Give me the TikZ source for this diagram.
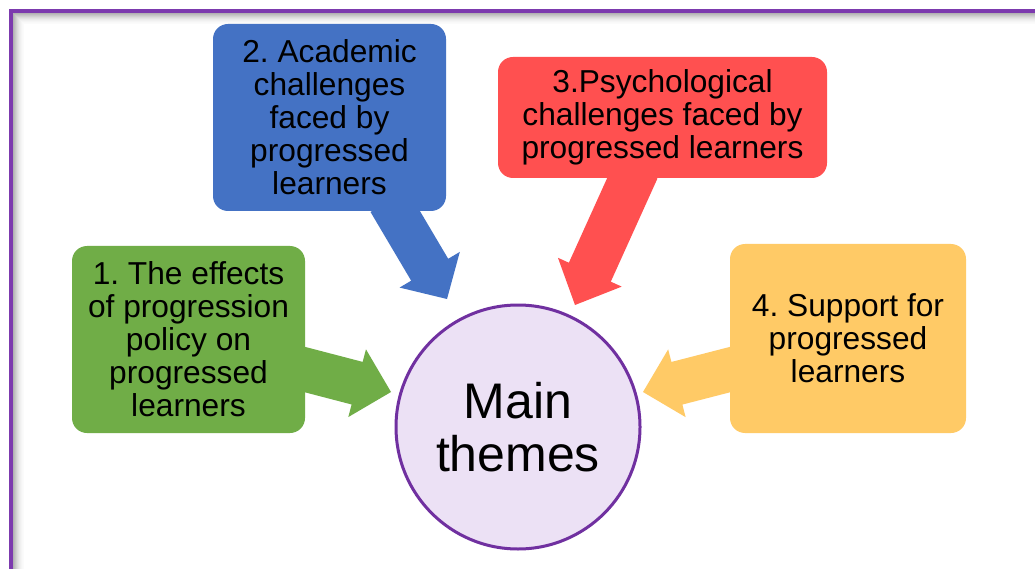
\documentclass[tikz,border=0pt]{standalone}
\usepackage{fontspec}
\setmainfont{Liberation Sans}
\usetikzlibrary{calc}
\frenchspacing

\definecolor{framecol}{RGB}{124,58,174}
\definecolor{ringcol}{RGB}{112,48,160}
\definecolor{ringfill}{RGB}{236,225,245}
\definecolor{boxgreen}{RGB}{112,173,71}
\definecolor{boxblue}{RGB}{68,114,196}
\definecolor{boxred}{RGB}{255,80,80}
\definecolor{boxyellow}{RGB}{255,202,102}

\tikzset{
  themebox/.style={rounded corners=15pt, inner sep=0pt, align=center,
    font=\fontsize{31.7}{33}\selectfont},
  hub/.style={circle, draw=ringcol, fill=ringfill, line width=3pt,
    minimum size=244pt, inner sep=0pt, align=center,
    font=\fontsize{50}{53}\selectfont},
}

% block arrow: #1 colour, #2 start, #3 tip, #4 shaft half width, #5 head length
\newcommand\blockarrow[5]{%
  \path ($(#3)!#5!(#2)$) coordinate (#2-hb);
  \fill[#1] ($(#2)!#4!90:(#3)$)
    -- ($(#2-hb)!#4!90:(#3)$)
    -- ($(#2-hb)!35pt!90:(#3)$)
    -- (#3)
    -- ($(#2-hb)!35pt!-90:(#3)$)
    -- ($(#2-hb)!#4!-90:(#3)$)
    -- ($(#2)!#4!-90:(#3)$) -- cycle;}

\begin{document}
\begin{tikzpicture}[x=1pt, y=-1pt]
  \useasboundingbox (0,0) rectangle (1035,569);
  \clip (0,0) rectangle (1035,569);
  \fill[white] (0,0) rectangle (1035,569);

  % inner shadow of the frame
  \foreach \i/\o in {1/0.30,2/0.26,3/0.22,4/0.18,5/0.14,6/0.11,7/0.08,8/0.06,9/0.04,10/0.025,11/0.015} {
    \draw[black, opacity=\o, line width=1pt] (12.5+\i,600) -- (12.5+\i,12.5+\i) -- (1060,12.5+\i);
  }
  % frame
  \draw[framecol, line width=4pt] (11,600) -- (11,11) -- (1060,11);

  % arrow anchors
  \coordinate (gs) at (295,367);
  \coordinate (gt) at (391,392);
  \coordinate (bs) at (389,201);
  \coordinate (bt) at (447,299);
  \coordinate (rs) at (636.5,169);
  \coordinate (rt) at (575,305);
  \coordinate (ys) at (740,367);
  \coordinate (yt) at (643,392);

  \blockarrow{boxgreen}{gs}{gt}{22pt}{35pt}
  \blockarrow{boxblue}{bs}{bt}{21.5pt}{34pt}
  \blockarrow{boxred}{rs}{rt}{23pt}{36pt}
  \blockarrow{boxyellow}{ys}{yt}{22pt}{35pt}

  % theme boxes
  \node[themebox, fill=boxgreen, minimum width=233pt, minimum height=187pt]
    (effects) at (188.5,339.5) {1. The effects\\of progression\\policy on\\progressed\\learners};
  \node[themebox, fill=boxblue, minimum width=233pt, minimum height=187pt]
    (academic) at (329.5,117.5) {2. Academic\\challenges\\faced by\\progressed\\learners};
  \node[themebox, fill=boxred, minimum width=329pt, minimum height=121pt]
    (psych) at (662.5,117.5) {3.Psychological\\challenges faced by\\progressed learners};
  \node[themebox, fill=boxyellow, minimum width=236pt, minimum height=189pt]
    (support) at (848,338.5) {4. Support for\\progressed\\learners};

  % central circle
  \node[hub] (main) at (518,427) {Main\\themes};
\end{tikzpicture}
\end{document}
